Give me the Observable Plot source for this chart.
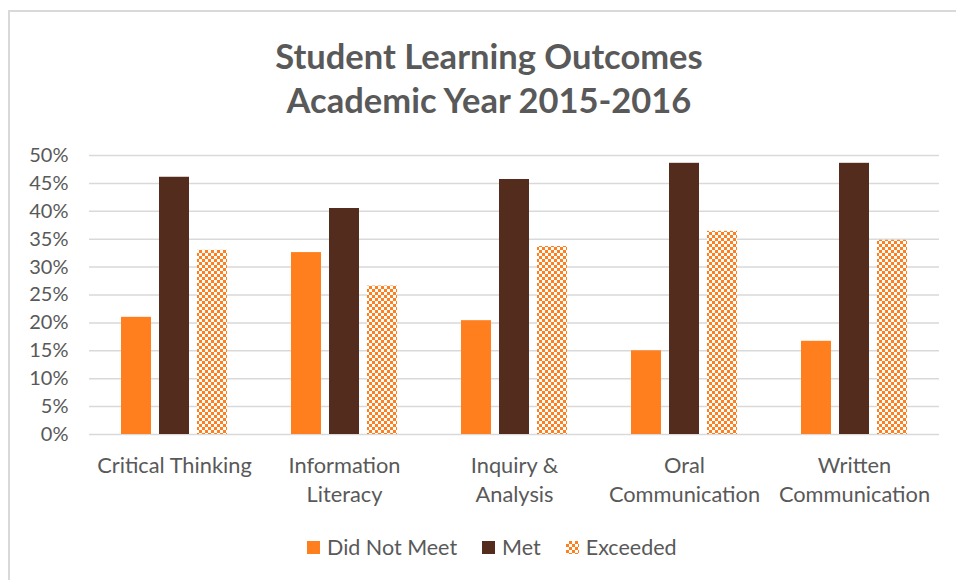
<!DOCTYPE html>
<html>
<head>
<meta charset="utf-8">
<script src="https://cdn.jsdelivr.net/npm/d3@7"></script>
<script src="https://cdn.jsdelivr.net/npm/@observablehq/plot@0.6"></script>
<style>
  html, body { margin: 0; padding: 0; background: #fff; overflow: hidden; width: 956px; height: 580px; }
  #frame { position: absolute; left: 8px; top: 10px; width: 2000px; height: 2000px;
           border-left: 2px solid #D9D9D9; border-top: 2px solid #D9D9D9; box-sizing: border-box; }
  #title { position: absolute; left: 189px; width: 600px; top: 34px; text-align: center;
           font-family: Lato, sans-serif; font-weight: bold; font-size: 34.5px; line-height: 44px; color: #595959; white-space: nowrap; }
  #chart { position: absolute; left: 0; top: 130px; }
  #legend { position: absolute; left: 307px; top: 534px; display: flex; align-items: center;
            font-family: Lato, sans-serif; font-size: 21.5px; color: #595959; }
  .item { display: flex; align-items: center; margin-right: 25px; }
  .sw { width: 13px; height: 13px; margin-right: 7px; }
</style>
</head>
<body>
<div id="frame"></div>
<div id="title">Student Learning Outcomes<br>Academic Year 2015-2016</div>
<div id="chart"></div>
<div id="legend"></div>
<script>
const categories = ["Critical Thinking", "Information Literacy", "Inquiry & Analysis", "Oral Communication", "Written Communication"];
const categoryLabels = ["Critical Thinking", "Information\nLiteracy", "Inquiry &\nAnalysis", "Oral\nCommunication", "Written\nCommunication"];
const levels = ["Did Not Meet", "Met", "Exceeded"];
const didNotMeet = [21.0, 32.6, 20.4, 15.0, 16.7];
const met = [46.1, 40.5, 45.7, 48.6, 48.6];
const exceeded = [33.0, 26.6, 33.7, 36.4, 34.8];
const yTicks = [0, 5, 10, 15, 20, 25, 30, 35, 40, 45, 50];
const colors = ["#FF7F1E", "#532C1E", "url(#checker)"];

const series = [didNotMeet, met, exceeded];
const data = [];
categories.forEach((c, i) => {
  levels.forEach((l, j) => data.push({category: c, level: l, value: series[j][i]}));
});

const chart = Plot.plot({
  width: 956,
  height: 390,
  marginLeft: 88,
  marginRight: 16,
  marginTop: 25,
  marginBottom: 86,
  style: {fontFamily: "Lato, sans-serif", color: "#595959", background: "transparent"},
  fx: {domain: categories, padding: 0, label: null},
  x: {domain: levels, paddingInner: 0.2, paddingOuter: 0.8, axis: null},
  y: {domain: [0, 50], label: null},
  color: {domain: levels, range: colors},
  marks: [
    Plot.gridY(yTicks, {stroke: "#D9D9D9", strokeOpacity: 1, strokeWidth: 1.5}),
    Plot.axisY(yTicks, {tickSize: 0, tickPadding: 21, fontSize: 20, tickFormat: d => d + "%", label: null}),
    Plot.axisFx({anchor: "bottom", tickSize: 0, tickPadding: 17, fontSize: 21.8, lineHeight: 1.36,
                 tickFormat: d => categoryLabels[categories.indexOf(d)], label: null}),
    Plot.barY(data, {fx: "category", x: "level", y: "value", fill: "level"})
  ]
});

const ns = "http://www.w3.org/2000/svg";
const defs = document.createElementNS(ns, "defs");
const pat = document.createElementNS(ns, "pattern");
pat.setAttribute("id", "checker");
pat.setAttribute("width", "6");
pat.setAttribute("height", "6");
pat.setAttribute("patternUnits", "userSpaceOnUse");
const bg = document.createElementNS(ns, "rect");
bg.setAttribute("width", "6"); bg.setAttribute("height", "6"); bg.setAttribute("fill", "#fff");
pat.appendChild(bg);
[[0, 0], [3, 3]].forEach(([px, py]) => {
  const r = document.createElementNS(ns, "rect");
  r.setAttribute("x", px); r.setAttribute("y", py);
  r.setAttribute("width", "3"); r.setAttribute("height", "3");
  r.setAttribute("fill", "#FF7F1E");
  pat.appendChild(r);
});
defs.appendChild(pat);
chart.insertBefore(defs, chart.firstChild);
document.getElementById("chart").appendChild(chart);

const legend = document.getElementById("legend");
levels.forEach((l, j) => {
  const item = document.createElement("div");
  item.className = "item";
  const sw = document.createElement("div");
  sw.className = "sw";
  if (j === 2) {
    sw.style.backgroundImage = "repeating-conic-gradient(#FF7F1E 0 25%, #fff 0 50%)";
    sw.style.backgroundSize = "6px 6px";
  } else {
    sw.style.background = colors[j];
  }
  const t = document.createElement("span");
  t.textContent = l;
  item.appendChild(sw); item.appendChild(t);
  legend.appendChild(item);
});
</script>
</body>
</html>
